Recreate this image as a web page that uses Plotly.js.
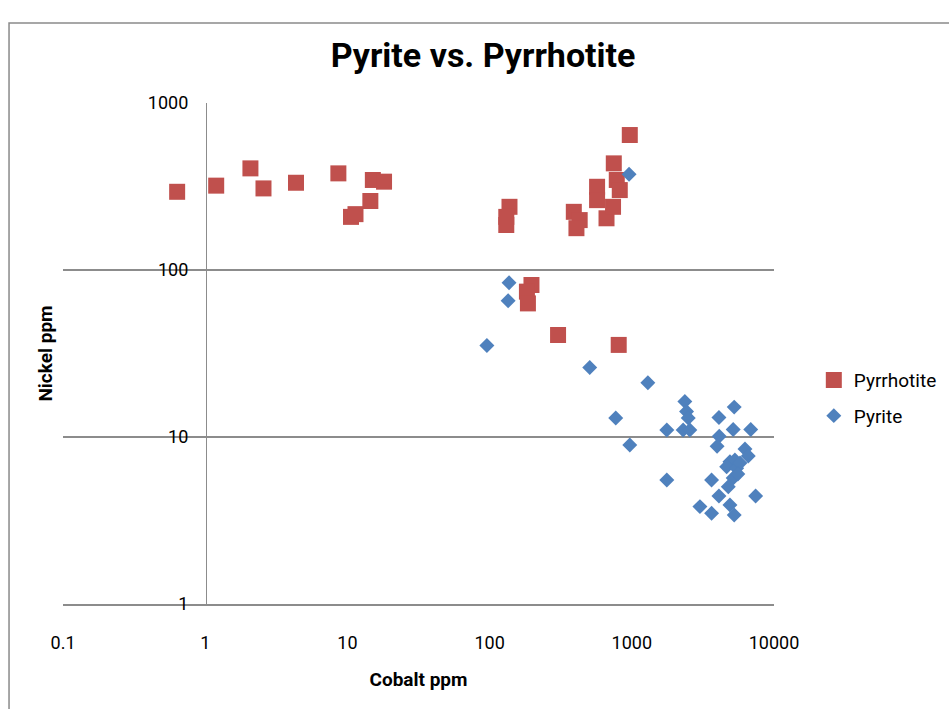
<!DOCTYPE html>
<html>
<head>
<meta charset="utf-8">
<script src="https://cdn.plot.ly/plotly-3.0.1.min.js"></script>
<style>html,body{margin:0;padding:0;background:#fff;}#chart{width:949px;height:709px;}</style>
</head>
<body>
<div id="chart"></div>
<script>
// Cobalt (x) and Nickel (y) in ppm
const pyrrhotiteCo = [0.635, 1.195, 2.08, 2.57, 4.35, 8.64, 15.1, 18.1, 14.5, 10.6, 11.4,
  138, 131, 131, 391, 430, 408, 570, 570, 664, 738, 747, 784, 823, 968,
  197, 183, 186, 303, 809];
const pyrrhotiteNi = [294, 320, 406, 308, 333, 379, 346, 338, 259, 208, 216,
  239, 208, 186, 223, 199, 178, 315, 262, 204, 239, 435, 346, 301, 643,
  81.3, 74.2, 63.1, 40.8, 35.6];

const pyriteCo = [957, 137, 135, 95.7, 506, 1297, 771, 968, 1763, 1763,
  2361, 2427, 2494, 2297, 2560, 4100, 5250, 5165, 6860, 4120,
  3980, 6250, 6590, 4900, 5310, 4645, 5460, 5165, 4770, 3640,
  4100, 7430, 3014, 3640, 4900, 5250, 5770, 5570];
const pyriteNi = [374, 84, 65.5, 35.3, 26.1, 21.1, 13.0, 8.96, 11.0, 5.53,
  16.3, 14.2, 13.0, 11.0, 11.0, 13.1, 15.1, 11.1, 11.1, 10.1,
  8.8, 8.47, 7.7, 7.11, 7.28, 6.64, 6.5, 5.68, 5.04, 5.53,
  4.43, 4.43, 3.83, 3.49, 3.92, 3.41, 6.99, 6.0];

const xTickVals = [0.1, 1, 10, 100, 1000, 10000];
const xTickText = ['0.1', '1', '10', '100', '1000', '10000'];
const yTickVals = [1, 10, 100, 1000];
const yTickText = ['1', '10', '100', '1000'];

const FONT = "Roboto, 'Liberation Sans', sans-serif";
const GRID = '#8c8c8c';

const traces = [
  {
    x: pyrrhotiteCo, y: pyrrhotiteNi, name: 'Pyrrhotite', type: 'scatter', mode: 'markers',
    legendgroup: 'a',
    marker: {symbol: 'square', size: 16, color: '#C0504D'}
  },
  {
    x: pyriteCo, y: pyriteNi, name: 'Pyrite', type: 'scatter', mode: 'markers',
    legendgroup: 'b',
    marker: {symbol: 'diamond', size: 11.5, color: '#4F81BD'}
  }
];

const layout = {
  width: 949, height: 709,
  margin: {l: 63, r: 175, t: 103, b: 105, autoexpand: false},
  paper_bgcolor: '#ffffff', plot_bgcolor: '#ffffff',
  font: {family: FONT, size: 18, color: '#000'},
  title: {
    text: '<b>Pyrite vs. Pyrrhotite</b>',
    font: {family: FONT, size: 34, color: '#000'},
    x: 0.509, xanchor: 'center', y: 0.922, yanchor: 'middle', xref: 'container', yref: 'container'
  },
  xaxis: {
    type: 'log', range: [-1, 4], tickmode: 'array', tickvals: xTickVals, ticktext: xTickText,
    showgrid: false, zeroline: false, showline: true, linecolor: GRID, linewidth: 1.5,
    ticks: '', ticklabelstandoff: 22,
    tickfont: {family: FONT, size: 18, color: '#000'},
    title: {text: '<b>Cobalt ppm</b>', font: {family: FONT, size: 19, color: '#000'}, standoff: 20}
  },
  yaxis: {
    type: 'log', range: [0, 3], tickmode: 'array', tickvals: yTickVals, ticktext: yTickText,
    anchor: 'free', position: 0.2011,
    showgrid: true, gridcolor: GRID, gridwidth: 1.5, zeroline: false,
    showline: true, linecolor: GRID, linewidth: 1.2,
    ticks: '', ticklabelstandoff: 14,
    tickfont: {family: FONT, size: 18, color: '#000'},
    title: {text: '<b>Nickel ppm</b>', font: {family: FONT, size: 19, color: '#000'}, standoff: 89}
  },
  showlegend: true,
  legend: {
    x: 1.056, xanchor: 'left', y: 0.411, yanchor: 'middle', itemwidth: 30,
    font: {family: FONT, size: 19, color: '#000'},
    tracegroupgap: 8, bgcolor: 'rgba(0,0,0,0)'
  },
  shapes: [
    {type: 'rect', xref: 'paper', yref: 'paper',
     x0: -0.0759, x1: 1.26, y0: -0.23, y1: 1.1597,
     line: {color: '#8a8a8a', width: 1.5}, fillcolor: 'rgba(0,0,0,0)'}
  ]
};

Plotly.newPlot('chart', traces, layout, {displayModeBar: false, responsive: false});
</script>
</body>
</html>
